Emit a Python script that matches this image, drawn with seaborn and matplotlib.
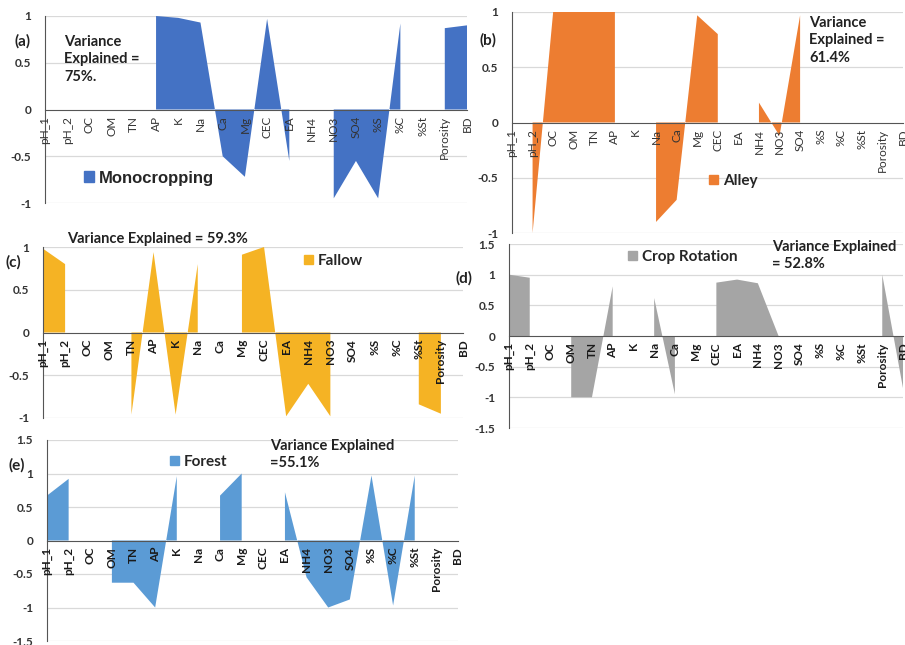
import numpy as np
import matplotlib.pyplot as plt
from matplotlib.patches import Patch
from matplotlib.ticker import MultipleLocator
import seaborn as sns

sns.set_style("white")
plt.rcParams['font.family'] = ['Lato', 'DejaVu Sans']

nan = np.nan
variables = ['pH_1', 'pH_2', 'OC', 'OM', 'TN', 'AP', 'K', 'Na', 'Ca', 'Mg', 'CEC', 'EA',
             'NH4', 'NO3', 'SO4', '%S', '%C', '%St', 'Porosity', 'BD']

monocropping = [nan, nan, nan, nan, nan, 1.0, 0.98, 0.93, -0.5, -0.72, 0.97, -0.55,
                nan, -0.95, -0.55, -0.95, 0.92, nan, 0.87, 0.9]
alley = [nan, -1.0, 1.0, 1.0, 1.0, 1.0, nan, -0.9, -0.7, 0.97, 0.8, nan,
         0.18, -0.12, 0.97, nan, nan, nan, nan, nan]
fallow = [0.98, 0.8, nan, nan, -0.96, 0.94, -0.96, 0.8, nan, 0.91, 1.0, -0.98,
          -0.6, -0.98, nan, nan, nan, -0.84, -0.95, nan]
crop_rotation = [1.0, 0.95, nan, -1.0, -1.0, 0.81, nan, 0.62, -0.95, nan, 0.87, 0.92,
                 0.86, 0.0, nan, nan, nan, nan, 1.0, -0.85]
forest = [0.67, 0.92, nan, -0.63, -0.63, -1.0, 0.96, nan, 0.67, 1.0, nan, 0.72,
          -0.55, -1.0, -0.88, 0.97, -0.97, 0.97, nan, nan]

W, H = 905, 645
fig = plt.figure(figsize=(W / 100, H / 100), dpi=100)


def px_axes(l, t, r, b):
    return fig.add_axes([l / W, 1 - b / H, (r - l) / W, (b - t) / H])


def ftext(x, y, s, **kw):
    fig.text(x / W, 1 - y / H, s, **kw)


def panel(box, values, color, name, ylim, major, minor, bold_x, leg_xy, leg_size):
    ax = px_axes(*box)
    x = np.arange(len(variables))
    y = np.array(values, dtype=float)
    ax.fill_between(x, 0, y, color=color, lw=0, zorder=1)
    ax.set_xlim(0, len(variables) - 1)
    ax.set_ylim(*ylim)
    ax.set_axisbelow(False)
    # spine position resets the ticks, so do it before styling the labels
    for s in ['top', 'right']:
        ax.spines[s].set_visible(False)
    ax.spines['bottom'].set_position(('data', 0))
    ax.spines['bottom'].set_color('#555555')
    ax.spines['left'].set_color('#555555')
    ax.yaxis.set_major_locator(MultipleLocator(major))
    ax.yaxis.set_minor_locator(MultipleLocator(minor))
    for v in ax.get_yticks():
        if ylim[0] <= v <= ylim[1] and v != 0:
            ax.axhline(v, color='#D9D9D9', lw=0.9, zorder=0)
    ax.yaxis.set_major_formatter(plt.FuncFormatter(lambda v, p: f'{v:g}'))
    ax.tick_params(axis='y', labelsize=8.5, labelcolor='#333333', direction='inout',
                   length=6, width=0.8, color='#555555', pad=7)
    ax.tick_params(axis='y', which='minor', direction='inout', length=3, width=0.6,
                   color='#555555')
    ax.tick_params(axis='x', direction='inout', length=5, width=0.8, color='#555555',
                   pad=2, labelrotation=90, labelsize=8.5,
                   labelcolor='#1a1a1a' if bold_x else '#333333')
    ax.set_xticks(x)
    ax.set_xticklabels(variables, fontweight='bold' if bold_x else 'normal')
    ax.set_yticks(ax.get_yticks())
    ax.set_ylim(*ylim)
    for lab in ax.get_yticklabels():
        lab.set_fontweight('bold')
    ax.patch.set_alpha(0)
    ax.legend(handles=[Patch(color=color, label=name)], frameon=False,
              loc='center left', bbox_to_anchor=(leg_xy[0] / W, 1 - leg_xy[1] / H),
              bbox_transform=fig.transFigure, handlelength=0.6, handleheight=0.6,
              handletextpad=0.3, borderpad=0, borderaxespad=0,
              prop={'weight': 'bold', 'size': leg_size,
                    'family': ['Liberation Sans'] if name == 'Monocropping' else ['Lato']})
    return ax


panel((45, 16, 467, 203), monocropping, '#4472C4', 'Monocropping', (-1, 1), 0.5, 0.1,
      False, (84, 178), 12)
panel((512, 12, 903, 233), alley, '#ED7D31', 'Alley', (-1, 1), 0.5, 0.1,
      False, (709, 181), 11)
panel((43, 247, 463, 418), fallow, '#F5B324', 'Fallow', (-1, 1), 0.5, 0.1,
      True, (304, 261), 11)
panel((509, 244, 903, 428), crop_rotation, '#A5A5A5', 'Crop Rotation', (-1.5, 1.5), 0.5, 0.05,
      True, (628, 257), 11)
panel((47, 440, 458, 641), forest, '#5B9BD5', 'Forest', (-1.5, 1.5), 0.5, 0.05,
      True, (170, 462), 11)

lab = dict(fontsize=11, fontweight='bold', color='#222222', va='center')
ftext(14, 41, '(a)', **lab)
ftext(479, 40, '(b)', **lab)
ftext(5, 262, '(c)', **lab)
ftext(455, 278, '(d)', **lab)
ftext(8, 465, '(e)', **lab)

ve = dict(fontsize=10.5, fontweight='bold', color='#222222', va='top', linespacing=1.3)
ftext(64, 35, 'Variance\nExplained =\n75%.', **ve)
ftext(809, 16, 'Variance\nExplained =\n61.4%', **ve)
ftext(67, 232, 'Variance Explained = 59.3%', **ve)
ftext(772, 240, 'Variance Explained\n= 52.8%', **ve)
ftext(270, 439, 'Variance Explained\n=55.1%', **ve)

fig.savefig('out.png', dpi=100)
